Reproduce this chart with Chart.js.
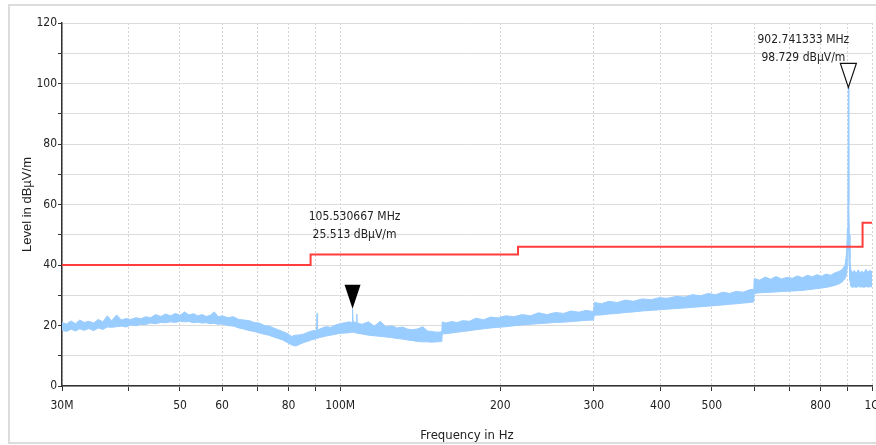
<!DOCTYPE html>
<html>
<head>
<meta charset="utf-8">
<script src="https://cdn.jsdelivr.net/npm/chart.js@4.4.1/dist/chart.umd.min.js"></script>
<style>
  html, body { margin: 0; padding: 0; background: #fff; }
  #wrap { position: relative; width: 876px; height: 445px; overflow: hidden; }
  #frame { position: absolute; left: 8px; top: 4px; width: 900px; height: 440px; box-sizing: border-box; border: 2px solid #dcdcdc; }
  canvas { position: absolute; left: 0; top: 0; }
</style>
</head>
<body>
<div id="wrap">
  <div id="frame"></div>
  <canvas id="emissionChart" width="876" height="445"></canvas>
</div>
<script>
// frequencies in MHz, levels in dBµV/m
const limitFreq = [30, 88, 216, 960, 1000];
const limitLevel = [40, 43.5, 46, 54, 54];

const traceFreq = [
  30, 30.6, 31.2, 31.8, 32.4, 33, 33.7, 34.4, 35.1, 35.8, 36.5, 37.2, 38, 38.8, 39.6,
  40.4, 41.3, 42.2, 43.1, 44, 45, 46, 47, 48, 49, 50, 51, 52, 53, 54, 55, 56, 57, 58, 59, 60,
  61.5, 63, 64.5, 66, 67.5, 69, 70.5, 72, 73.5, 75, 76.5, 78, 79.5, 81, 82.5, 84, 85.5, 87,
  88.5, 90, 90.3, 90.5, 90.7, 92, 94, 96, 98, 100, 102, 104, 105.3, 105.53, 105.8, 107.3,
  107.5, 107.7, 110, 113, 116, 119, 122, 125, 128, 131, 134, 137, 140, 143, 146, 149, 152,
  155.3, 155.6, 158, 162, 166, 170, 175, 180, 186, 192, 198, 205, 212, 220, 228, 236, 245,
  254, 263, 272, 281, 290, 299.5, 300.5, 310, 320, 332, 344, 356, 370, 384, 398, 412, 428,
  444, 460, 476, 492, 508, 524, 540, 556, 572, 588, 599.5, 600.5, 615, 630, 645, 660, 676,
  692, 708, 724, 740, 756, 772, 788, 804, 820, 836, 852, 868, 880, 890, 896, 899, 901,
  902.74, 904.5, 906.5, 909, 912, 918, 926, 934, 942, 950, 958, 966, 974, 982, 990, 1000
];
const traceHigh = [
  21, 20.5, 21.5, 20.6, 21.8, 21, 21.4, 20.8, 22, 21.2, 23.2, 21.6, 23.5, 21.8, 22.3,
  22, 22.6, 22.2, 22.9, 22.6, 23.6, 23, 23.8, 23.2, 24, 23.4, 24.5, 23.5, 23.9, 23.2, 23.6, 23, 23.4, 24.5, 22.9, 23.2,
  22.6, 22.9, 22, 21.8, 21.6, 21, 20.8, 20, 19.8, 19.2, 18.6, 18, 17.4, 16.4, 16.8, 16.9, 17.2, 17.8,
  18.2, 18.4, 18.6, 24, 18.5, 19, 19.6, 19.4, 20.2, 20.6, 20.9, 21.2, 21, 25.5, 21.2, 21,
  23.8, 20.8, 20.4, 21.2, 19.8, 21.4, 19.6, 19.9, 19.2, 19.5, 18.8, 18.6, 18.9, 19.6, 18.2, 18, 17.8,
  17.9, 21.2, 20.8, 21.3, 21, 21.6, 21.4, 22.4, 21.9, 22.8, 22.5, 23.2, 22.9, 23.6, 23.2, 24.2, 23.6,
  24.3, 24, 24.8, 24.4, 25, 24.6, 27.6, 27.2, 28, 27.6, 28.4, 28, 28.8, 28.5, 29.2, 29, 29.6,
  29.4, 30.2, 29.8, 30.6, 30.2, 31, 30.6, 31.3, 31, 31.8, 32, 35.5, 35, 36, 35.3, 36.2, 35.4,
  35.9, 35.6, 36.4, 35.8, 36.6, 36.1, 36.8, 36.3, 37, 36.6, 37.4, 37.9, 38.6, 40, 44, 52, 62,
  98.729, 60, 50, 42, 38.5, 37.5, 38.2, 37.2, 38.4, 37.4, 38, 37.3, 38.6, 37.6, 38.2, 37.8
];
const traceLow = [
  18.5, 18, 18.8, 18.2, 18.9, 18.4, 19, 18.3, 19.2, 18.7, 19.5, 19.4, 19.6, 19.8, 19.5,
  20.2, 19.9, 20.4, 20.3, 20.8, 20.6, 21, 20.9, 21.2, 21, 21.4, 21.2, 21.3, 20.9, 21.1, 20.8, 20.9, 20.6, 20.7, 20.4, 20.5,
  20, 19.8, 19.2, 18.8, 18.3, 18, 17.5, 17.1, 16.8, 16.2, 15.7, 15.2, 14.4, 13.6, 13.2, 13.8, 14.4, 14.8,
  15.3, 15.6, 15.7, 15.8, 15.8, 16.1, 16.5, 16.8, 17.1, 17.4, 17.5, 17.6, 17.8, 17.8, 17.8, 17.5,
  17.5, 17.4, 17.2, 16.8, 16.6, 16.4, 16.2, 16, 15.7, 15.5, 15.2, 15, 14.7, 14.6, 14.6, 14.5, 14.6,
  14.7, 17.2, 17.3, 17.5, 17.8, 18, 18.3, 18.6, 18.9, 19.2, 19.4, 19.6, 19.9, 20.2, 20.4, 20.6, 20.8,
  21, 21.1, 21.3, 21.5, 21.7, 21.8, 23.4, 23.5, 23.8, 24, 24.3, 24.5, 24.8, 25, 25.2, 25.4, 25.6,
  25.8, 26, 26.2, 26.4, 26.6, 26.8, 27, 27.2, 27.4, 27.6, 27.8, 30.6, 30.8, 30.9, 31, 31.1, 31.2,
  31.3, 31.4, 31.5, 31.6, 31.8, 32, 32.2, 32.4, 32.6, 32.9, 33.3, 33.8, 34.5, 35.5, 37, 40, 45,
  48, 45, 40, 35, 33, 32.6, 32.8, 32.6, 32.9, 32.7, 32.8, 32.6, 32.9, 32.7, 32.8, 32.8
];

const markerFreq = [105.530667, 902.741333];
const markerLevel = [25.513, 98.729];

const xTickValues = [30, 40, 50, 60, 70, 80, 90, 100, 200, 300, 400, 500, 600, 700, 800, 900, 1000];
const xTickLabels = ["30M", "", "50", "60", "", "80", "", "100M", "200", "300", "400", "500", "", "", "800", "", "1G"];

const narrow = "'Liberation Sans Narrow', 'Arial Narrow', 'DejaVu Sans Condensed', 'Liberation Sans', sans-serif";

const toPoints = (xs, ys) => xs.map((f, i) => ({ x: f, y: ys[i] }));

// marker triangles + readout text, positioned through the chart scales
const markerPlugin = {
  id: "markers",
  afterDatasetsDraw(chart, args, opts) {
    const { ctx } = chart;
    const x = chart.scales.x;
    const y = chart.scales.y;
    ctx.save();
    markerFreq.forEach((f, i) => {
      const px = x.getPixelForValue(f);
      const py = y.getPixelForValue(markerLevel[i]);
      ctx.beginPath();
      ctx.moveTo(px, py);
      ctx.lineTo(px - 8, py - 24);
      ctx.lineTo(px + 8, py - 24);
      ctx.closePath();
      if (i === 0) {
        ctx.fillStyle = "#000";
        ctx.fill();
      } else {
        ctx.fillStyle = "#fff";
        ctx.fill();
        ctx.lineWidth = 1.2;
        ctx.strokeStyle = "#111";
        ctx.stroke();
      }
      ctx.fillStyle = "#222";
      ctx.font = "12px " + narrow;
      ctx.textAlign = "center";
      ctx.textBaseline = "middle";
      const tx = px + opts.dx[i];
      const ty = py + opts.dy[i];
      ctx.fillText(f.toFixed(6) + " MHz", tx, ty);
      ctx.fillText(markerLevel[i].toFixed(3) + " dBµV/m", tx, ty + 18);
    });
    ctx.restore();
  },
};

const ctx = document.getElementById("emissionChart").getContext("2d");

const EmissionChart = new Chart(ctx, {
  type: "line",
  data: {
    datasets: [
      {
        label: "Limit",
        data: toPoints(limitFreq, limitLevel),
        borderColor: "#ff3d3d",
        borderWidth: 2,
        stepped: true,
        pointRadius: 0,
        fill: false,
      },
      {
        label: "Trace max",
        data: toPoints(traceFreq, traceHigh),
        borderColor: "#99ccff",
        backgroundColor: "#99ccff",
        borderWidth: 1,
        pointRadius: 0,
        fill: "+1",
      },
      {
        label: "Trace min",
        data: toPoints(traceFreq, traceLow),
        borderColor: "#99ccff",
        borderWidth: 1,
        pointRadius: 0,
        fill: false,
      },
    ],
  },
  options: {
    responsive: false,
    animation: false,
    events: [],
    layout: { padding: { top: 23, right: 4, left: 0, bottom: 0 } },
    plugins: {
      legend: { display: false },
      tooltip: { enabled: false },
      markers: { dx: [2, -45], dy: [-92, -47] },
    },
    scales: {
      x: {
        type: "logarithmic",
        min: 30,
        max: 1000,
        afterBuildTicks: (s) => {
          s.ticks = xTickValues.map((v) => ({ value: v }));
        },
        afterFit: (s) => {
          s.height = 59;
          s.paddingLeft = 0;
          s.paddingRight = 0;
        },
        ticks: {
          autoSkip: false,
          maxRotation: 0,
          padding: 8,
          color: "#222",
          font: { family: narrow, size: 12 },
          callback: (v) => xTickLabels[xTickValues.indexOf(v)],
        },
        grid: { color: "#d4d4d4", tickColor: "#333", tickLength: 5 },
        border: { color: "#333", width: 1.5, dash: [2, 2] },
        title: {
          display: true,
          text: "Frequency in Hz",
          color: "#222",
          font: { family: narrow, size: 13 },
          padding: { top: 0, bottom: 2 },
        },
      },
      y: {
        min: 0,
        max: 120,
        afterFit: (s) => {
          s.width = 62;
        },
        ticks: {
          stepSize: 10,
          padding: 1,
          color: "#222",
          font: { family: narrow, size: 12 },
          callback: (v) => (v % 20 === 0 ? v : ""),
        },
        grid: { color: "#dcdcdc", tickColor: "#333", tickLength: 4 },
        border: { color: "#333", width: 1.5 },
        title: {
          display: true,
          text: "Level in dBµV/m",
          color: "#222",
          font: { family: "'Liberation Sans', Arial, sans-serif", size: 13 },
          padding: { top: 20, bottom: 0 },
        },
      },
    },
  },
  plugins: [markerPlugin],
});
</script>
</body>
</html>
